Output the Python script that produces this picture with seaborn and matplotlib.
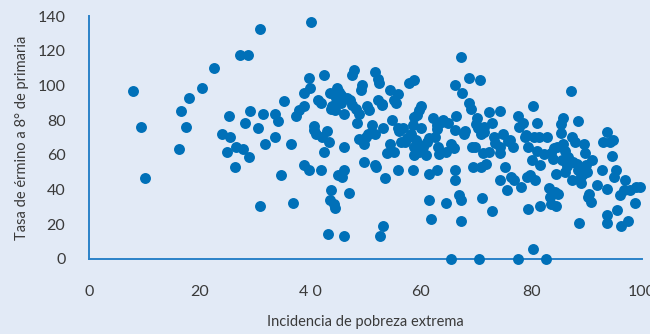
import matplotlib
matplotlib.use("Agg")
import matplotlib.pyplot as plt
import seaborn as sns
import pandas as pd

# Incidencia de pobreza extrema (%) por municipio
pobreza = [
    7.9, 9.4, 10.2, 16.2, 16.6, 17.6, 18.1, 20.4, 22.6, 24.0, 25.5, 25.4, 24.9, 26.4, 26.5,
    27.3, 28.7, 27.9, 28.2, 29.0, 29.1, 30.5, 31.0, 31.0, 31.4, 31.8, 33.7, 34.2, 33.7, 34.7,
    35.2, 36.6, 36.9, 37.5, 38.0, 38.9, 38.8, 39.9, 39.7, 38.8, 39.8, 40.2, 40.7, 40.7, 41.1,
    41.5, 42.0, 42.2, 41.9, 42.5, 42.5, 43.0, 43.4, 43.5, 43.2, 43.6, 43.8, 44.3, 44.4, 43.7,
    44.4, 44.7, 44.9, 45.0, 45.5, 45.6, 45.8, 46.1, 46.1, 46.1, 46.2, 46.6, 47.0, 47.2, 47.6,
    48.0, 48.3, 48.5, 48.8, 48.9, 49.1, 49.4, 49.7, 49.8, 50.1, 50.3, 50.7, 51.2, 51.7, 51.8,
    51.7, 51.9, 52.2, 52.5, 52.2, 52.7, 53.1, 52.9, 53.2, 53.6, 53.9, 54.5, 54.5, 54.8, 55.1,
    55.1, 55.6, 55.8, 55.8, 55.8, 56.4, 56.7, 57.1, 57.8, 58.7, 58.2, 58.7, 58.6, 58.6, 58.7,
    58.7, 59.1, 59.3, 59.7, 59.7, 60.1, 60.1, 60.4, 61.0, 61.2, 61.4, 61.4, 61.9, 62.2, 62.6,
    62.9, 62.9, 63.1, 63.3, 63.8, 64.6, 64.6, 64.9, 65.5, 66.1, 66.1, 66.0, 66.1, 66.1, 66.4,
    66.9, 67.2, 67.3, 67.4, 67.3, 67.8, 68.7, 68.7, 69.1, 69.3, 69.4, 69.8, 70.2, 70.6, 70.7,
    70.3, 70.8, 70.9, 71.0, 71.2, 71.5, 71.8, 72.4, 72.4, 72.8, 72.9, 73.2, 74.3, 74.3, 74.3,
    74.3, 74.9, 75.2, 75.6, 76.2, 76.4, 76.7, 76.9, 77.5, 77.5, 77.7, 78.1, 78.5, 78.8, 79.2,
    79.3, 79.3, 79.8, 80.1, 80.3, 80.3, 80.4, 80.7, 81.1, 81.4, 81.6, 81.6, 82.2, 82.6, 82.8,
    83.1, 83.3, 83.5, 83.9, 84.0, 84.3, 84.4, 84.5, 84.7, 84.9, 85.3, 85.3, 85.5, 85.7, 85.8,
    86.1, 86.4, 86.7, 87.2, 87.3, 87.4, 87.8, 88.2, 88.5, 88.5, 88.6, 88.9, 89.3, 89.5, 89.7,
    89.8, 90.0, 90.3, 90.4, 90.8, 91.0, 91.9, 92.8, 93.0, 93.6, 93.6, 93.6, 93.6, 94.2, 94.5,
    94.7, 94.9, 95.3, 95.4, 96.0, 96.2, 96.8, 97.0, 97.5, 97.9, 98.7, 99.0, 99.7,
    # puntos adicionales en las zonas más densas
    44.0, 45.2, 47.5, 50.5, 53.0, 56.0, 57.5, 59.5, 61.5, 63.0, 64.0, 65.5, 68.0, 70.0, 71.5,
    73.5, 75.8, 79.0, 81.0, 83.5, 86.0, 87.5, 89.0,
]

# Tasa de término a 8° de primaria (%)
termino = [
    96.9, 76.2, 46.9, 63.1, 85.4, 76.2, 92.7, 98.5, 110.2, 71.9, 70.4, 82.3, 61.5, 53.1, 64.6,
    117.5, 117.5, 63.3, 78.1, 58.8, 85.2, 75.2, 132.3, 30.6, 83.7, 66.0, 83.8, 79.4, 70.4, 48.5,
    91.2, 66.0, 32.3, 82.5, 85.8, 88.1, 95.4, 98.3, 104.4, 54.4, 51.5, 136.7, 76.5, 74.2, 72.3,
    91.5, 90.0, 70.4, 51.5, 61.7, 105.8, 73.8, 67.5, 95.4, 14.6, 33.8, 39.6, 31.5, 29.2, 86.2,
    85.8, 92.5, 98.7, 48.3, 90.0, 94.4, 47.3, 64.6, 51.5, 13.1, 83.8, 92.5, 38.1, 91.5, 106.0,
    108.8, 86.7, 78.1, 69.4, 83.8, 97.3, 100.2, 66.5, 56.0, 70.4, 88.1, 85.8, 77.1, 72.3, 107.9,
    54.4, 53.1, 103.5, 101.5, 91.5, 13.1, 18.8, 88.7, 75.2, 46.9, 60.8, 66.5, 97.3, 80.0, 61.7,
    91.5, 89.6, 94.8, 75.2, 51.2, 67.5, 75.2, 67.5, 101.5, 103.1, 72.3, 81.9, 77.1, 51.5, 64.6,
    60.2, 68.5, 82.9, 61.7, 85.8, 88.1, 75.2, 64.6, 59.8, 67.5, 33.8, 48.8, 23.3, 81.0, 70.4,
    77.1, 51.2, 64.6, 60.4, 79.0, 32.3, 61.7, 78.1, 0.0, 100.2, 74.2, 63.7, 51.5, 45.4, 82.3,
    36.7, 33.8, 116.2, 95.4, 21.9, 72.3, 104.4, 90.0, 86.7, 64.6, 53.1, 64.6, 81.0, 0.0, 103.1,
    75.2, 72.3, 53.1, 35.4, 60.8, 76.2, 55.0, 84.8, 61.7, 78.1, 27.7, 70.4, 85.4, 64.6, 60.8,
    45.4, 72.3, 53.1, 39.6, 68.5, 47.3, 64.6, 45.4, 82.3, 0.0, 76.2, 41.2, 78.1, 70.4, 47.3,
    64.6, 29.0, 48.3, 57.3, 88.1, 6.0, 70.4, 45.4, 78.1, 70.4, 54.0, 30.6, 60.4, 0.0, 70.4,
    41.0, 35.8, 31.9, 57.9, 63.7, 38.7, 48.8, 30.6, 64.6, 37.7, 77.7, 72.7, 56.9, 81.0, 66.5,
    50.2, 53.5, 58.8, 96.9, 45.4, 70.4, 67.5, 55.0, 79.6, 51.5, 20.8, 43.5, 49.2, 66.2, 60.8,
    54.0, 50.2, 35.8, 37.7, 32.9, 57.3, 42.5, 51.5, 67.5, 73.3, 40.6, 25.2, 20.8, 67.5, 59.2,
    68.8, 47.3, 51.2, 28.1, 36.7, 18.8, 39.6, 45.4, 21.9, 39.6, 32.3, 41.2, 41.2,
    88.0, 96.0, 89.0, 72.0, 89.5, 74.0, 70.0, 66.0, 70.0, 75.0, 80.0, 66.0, 74.0, 78.0, 73.0,
    67.0, 68.0, 71.5, 62.0, 61.0, 62.5, 56.0, 48.0,
]

x_ticks = [0, 20, 40, 60, 80, 100]
x_tick_labels = ["0", "20", "4 0", "60", "80", "100"]
y_ticks = [0, 20, 40, 60, 80, 100, 120, 140]

bg = "#e2eaf6"
dot = "#0070b8"
axis_blue = "#2a82c8"
text_col = "#3a3a3a"

sns.set_theme(style="white")
plt.rcParams["font.family"] = ["Lato", "DejaVu Sans"]

df = pd.DataFrame({"pobreza": pobreza, "termino": termino})

fig = plt.figure(figsize=(6.5, 3.34), dpi=100, facecolor=bg)
ax = fig.add_axes([89 / 650, 1 - 259 / 334, (642 - 89) / 650, (259 - 16) / 334])
ax.set_facecolor(bg)

sns.scatterplot(data=df, x="pobreza", y="termino", ax=ax, color=dot, s=62,
                linewidth=0, clip_on=False, zorder=3)

ax.set_xlim(0, 100)
ax.set_ylim(0, 140)
ax.set_xticks(x_ticks)
ax.set_xticklabels(x_tick_labels)
ax.set_yticks(y_ticks)

for side in ["top", "right"]:
    ax.spines[side].set_visible(False)
for side in ["left", "bottom"]:
    ax.spines[side].set_color(axis_blue)
    ax.spines[side].set_linewidth(1.4)

ax.tick_params(axis="x", direction="out", length=9, width=1.4, color=axis_blue,
               pad=10, labelsize=11.5, labelcolor=text_col)
ax.tick_params(axis="y", direction="out", length=6, width=1.4, color=axis_blue,
               pad=11, labelsize=11.5, labelcolor=text_col)

ax.set_xlabel("Incidencia de pobreza extrema", fontsize=10.5, color=text_col, labelpad=11)
ax.set_ylabel("Tasa de érmino a 8° de primaria", fontsize=10.5, color=text_col, labelpad=6)

fig.savefig("out.png", dpi=100, facecolor=bg)
